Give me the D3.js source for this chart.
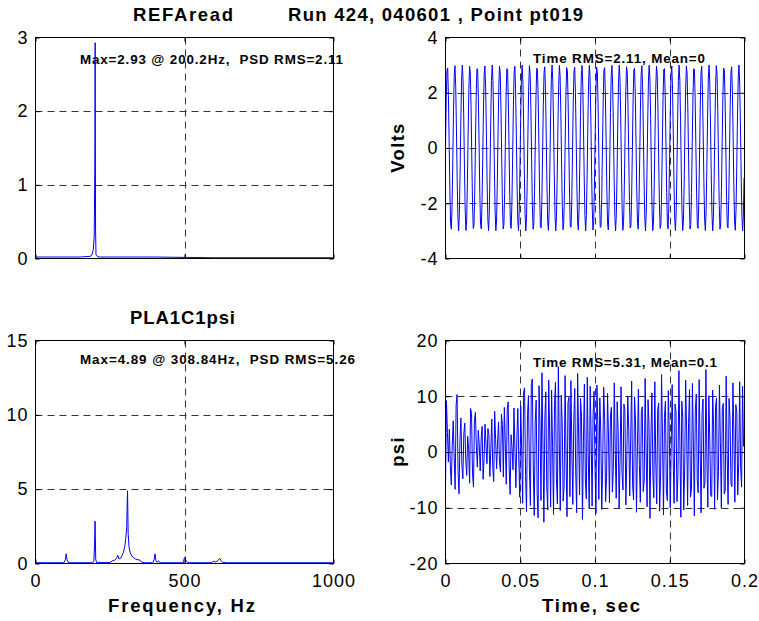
<!DOCTYPE html>
<html><head><meta charset="utf-8">
<script src="https://cdn.jsdelivr.net/npm/d3@7"></script>
<style>
body{margin:0;background:#fff}
svg{display:block}
text{font-family:"Liberation Sans",Arial,Helvetica,sans-serif;fill:#000}
.note{white-space:pre}
</style>
</head><body>
<svg id="chart" width="759" height="621"></svg>
<script>
// ---------- texts ----------
const refTitle = "REFAread";
const runTitle = "Run 424, 040601 , Point pt019";
const psiTitle = "PLA1C1psi";
const refPsdNote = "Max=2.93 @ 200.2Hz,  PSD RMS=2.11";
const psiPsdNote = "Max=4.89 @ 308.84Hz,  PSD RMS=5.26";
const refTimeNote = "Time RMS=2.11, Mean=0";
const psiTimeNote = "Time RMS=5.31, Mean=0.1";
const freqLabel = "Frequency, Hz";
const timeLabel = "Time, sec";
const voltsLabel = "Volts";
const psiLabel = "psi";

// ---------- ticks ----------
const freqTicks = [0, 500, 1000];
const timeTicks = [0, 0.05, 0.1, 0.15, 0.2];
const refPsdTicks = [0, 1, 2, 3];
const psiPsdTicks = [0, 5, 10, 15];
const voltsTicks = [-4, -2, 0, 2, 4];
const psiTicks = [-20, -10, 0, 10, 20];

// ---------- PSD data (Hz, value) ----------
const refPsdFreq = [0, 150, 185, 190, 194, 197, 199, 200.2, 201.5, 203, 210, 400, 600, 1000];
const refPsdVal  = [0.02, 0.02, 0.03, 0.06, 0.12, 0.3, 1.2, 2.93, 0.4, 0.05, 0.02, 0.02, 0.01, 0.01];

const psiPsdFreq = [0, 95, 100, 103, 106, 111, 192, 196, 198, 200, 202, 205, 250, 258, 265, 272, 276, 280,
  286, 291, 295, 300, 303, 306, 308.8, 311, 314, 318, 325, 335, 350, 358, 365, 394, 398, 401, 404, 408, 411,
  413, 416, 420, 496, 500, 505, 510, 516, 590, 596, 600, 605, 610, 614, 618, 622, 628, 640, 1000];
const psiPsdVal = [0.05, 0.05, 0.25, 0.65, 0.25, 0.05, 0.05, 0.2, 1.2, 2.85, 0.3, 0.06, 0.06, 0.18, 0.22, 0.35, 0.55, 0.32,
  0.35, 0.55, 0.75, 1.2, 1.7, 2.4, 4.89, 2.0, 1.1, 0.7, 0.45, 0.3, 0.22, 0.08, 0.05, 0.05, 0.25, 0.65, 0.2, 0.08, 0.15,
  0.18, 0.08, 0.05, 0.05, 0.4, 0.22, 0.08, 0.05, 0.05, 0.12, 0.15, 0.1, 0.15, 0.25, 0.35, 0.2, 0.08, 0.05, 0.05];

// ---------- time data ----------
const refRate = 2048; // samples per second
const refVolts = [
0,1.73,2.82,2.89,1.90,0.22,-1.54,-2.74,-2.94,-2.07,-0.44,
1.35,2.65,2.98,2.22,0.66,-1.15,-2.53,-3.00,-2.37,-0.87,
0.94,2.41,3.00,2.49,1.08,-0.73,-2.27,-2.99,-2.61,-1.28,
0.51,2.12,2.96,2.71,1.48,-0.29,-1.96,-2.91,-2.80,-1.67,
0.07,1.79,2.85,2.87,1.85,0.15,-1.61,-2.77,-2.93,-2.01,-0.37,
1.41,2.68,2.97,2.17,0.59,-1.22,-2.57,-2.99,-2.32,-0.80,
1.01,2.45,3.00,2.45,1.01,-0.80,-2.32,-2.99,-2.57,-1.22,
0.59,2.17,2.97,2.68,1.41,-0.37,-2.01,-2.93,-2.77,-1.61,
0.15,1.85,2.87,2.85,1.79,0.07,-1.67,-2.80,-2.91,-1.96,-0.29,
1.48,2.71,2.96,2.12,0.51,-1.28,-2.61,-2.99,-2.27,-0.73,
1.08,2.49,3.00,2.41,0.94,-0.87,-2.37,-3.00,-2.53,-1.15,
0.66,2.22,2.98,2.65,1.35,-0.44,-2.07,-2.94,-2.74,-1.54,
0.22,1.90,2.89,2.82,1.73,0.00,-1.73,-2.82,-2.89,-1.90,-0.22,
1.54,2.74,2.94,2.07,0.44,-1.35,-2.65,-2.98,-2.22,-0.66,
1.15,2.53,3.00,2.37,0.87,-0.94,-2.41,-3.00,-2.49,-1.08,
0.73,2.27,2.99,2.61,1.28,-0.51,-2.12,-2.96,-2.71,-1.48,
0.29,1.96,2.91,2.80,1.67,-0.07,-1.79,-2.85,-2.87,-1.85,-0.15,
1.61,2.77,2.93,2.01,0.37,-1.41,-2.68,-2.97,-2.17,-0.59,
1.22,2.57,2.99,2.32,0.80,-1.01,-2.45,-3.00,-2.45,-1.01,
0.80,2.32,2.99,2.57,1.22,-0.59,-2.17,-2.97,-2.68,-1.41,
0.37,2.01,2.93,2.77,1.61,-0.15,-1.85,-2.87,-2.85,-1.79,-0.07,
1.67,2.80,2.91,1.96,0.29,-1.48,-2.71,-2.96,-2.12,-0.51,
1.28,2.61,2.99,2.27,0.73,-1.08,-2.49,-3.00,-2.41,-0.94,
0.87,2.37,3.00,2.53,1.15,-0.66,-2.22,-2.98,-2.65,-1.35,
0.44,2.07,2.94,2.74,1.54,-0.22,-1.90,-2.89,-2.82,-1.73,
0,1.73,2.82,2.89,1.90,0.22,-1.54,-2.74,-2.94,-2.07,-0.44,
1.35,2.65,2.98,2.22,0.66,-1.15,-2.53,-3.00,-2.37,-0.87,
0.94,2.41,3.00,2.49,1.08,-0.73,-2.27,-2.99,-2.61,-1.28,
0.51,2.12,2.96,2.71,1.48,-0.29,-1.96,-2.91,-2.80,-1.67,
0.07,1.79,2.85,2.87,1.85,0.15,-1.61,-2.77,-2.93,-2.01,-0.37,
1.41,2.68,2.97,2.17,0.59,-1.22,-2.57,-2.99,-2.32,-0.80,
1.01,2.45,3.00,2.45,1.01,-0.80,-2.32,-2.99,-2.57,-1.22,
0.59,2.17,2.97,2.68,1.41,-0.37,-2.01,-2.93,-2.77,-1.61,
0.15,1.85,2.87,2.85,1.79,0.07,-1.67,-2.80,-2.91,-1.96,-0.29,
1.48,2.71,2.96,2.12,0.51,-1.28,-2.61,-2.99,-2.27,-0.73,
1.08,2.49,3.00,2.41,0.94,-0.87,-2.37,-3.00,-2.53,-1.15,
0.66,2.22,2.98,2.65,1.35,-0.44,-2.07,-2.94,-2.74,-1.54,
0.22,1.90,2.89,2.82,1.73,0.00,-1.73,-2.82,-2.89,-1.90,-0.22,
1.54,2.74,2.94,2.07,0.44,-1.35,-2.65,-2.98,-2.22,-0.66,
1.15,2.53,3.00,2.37,0.87,-0.94,-2.41,-3.00,-2.49,-1.08
];

const psiRate = 1550; // samples per second
const psiValues = [
-6.4,9.2,3.5,-1.8,4.1, -2.5,-5.9,1.2,5.6,-1.0, -6.7,8.4,10.3,-3.3,-7.5, 2.0,6.1,-2.4,-4.8,3.3,
5.2,-1.5,-4.2,2.8,0.4, -5.6,7.8,6.9,-3.9,-6.3, 5.5,7.1,0.9,-2.7,3.9, 1.2,-3.4,2.5,4.6,-4.9,
-1.1,5.0,1.3,-2.1,4.2, 3.1,-4.4,0.6,5.9,-2.9, -5.3,7.3,2.2,-3.0,1.8, 5.4,-1.9,-3.6,6.8,4.9,
-4.5,8.0,1.4,-5.8,7.7, 9.0,-2.8,-7.6,3.1,0.8, -3.2,7.9,0.5,-6.4,2.6, 7.8,-1.7,-8.1,8.3,0.3,
-9.2,10.8,11.5,-4.2,-10.7, 6.5,10.1,-3.0,-9.6,12.3, 13.1,-2.5,-11.4,5.2,9.3, -7.4,-11.8,11.9,4.4,-8.7,
14.2,2.1,-12.6,6.0,10.8, -6.2,-10.4,12.9,3.6,-9.9, 11.1,1.0,-11.2,8.3,12.5, -4.8,-9.3,15.3,1.6,-10.5,
10.2,5.5,-8.8,-6.1,13.7, -1.2,-11.6,8.9,9.8,-8.0, 12.8,0.7,-9.4,5.3,11.4, -3.4,-10.9,14.1,3.2,-7.7,
9.6,6.4,-12.1,1.9,12.2, -5.0,-8.4,13.4,-0.6,-10.2, 11.8,2.8,-9.7,6.7,10.9, -2.3,-11.0,12.0,4.7,-8.5,
9.7,3.4,-10.3,-2.0,11.6, 5.8,-8.9,-4.6,10.5,2.7, -9.1,6.6,8.0,-7.2,-3.1, 12.4,0.2,-8.3,9.0,4.0,
-10.1,-1.5,11.7,-3.7,-6.8, 8.6,7.5,-9.5,-0.9,10.0, 3.9,-7.9,2.4,12.7,-6.0, -8.6,9.9,5.7,-10.8,1.1,
11.3,-2.2,-9.0,7.0,8.1, -7.1,-5.2,13.2,0.0,-9.8, 9.4,4.8,-11.9,3.0,10.6, -4.0,-8.2,12.6,-1.4,-9.3,
7.6,8.8,-10.6,-4.3,13.9, 2.4,-11.3,6.2,9.1,-7.0, -8.7,11.0,3.7,-10.0,0.9, 12.1,-0.8,-9.2,8.6,7.2,
-8.9,-4.1,14.6,1.5,-11.7, 9.1,6.3,-10.4,-2.6,12.9, 3.8,-9.6,5.1,11.2,-8.1, -6.6,12.3,2.0,-11.5,7.4,
10.4,-4.9,-7.3,13.0,0.6, -10.9,6.9,9.5,-6.5,-5.4, 14.8,-1.3,-9.9,10.1,2.3, -7.8,-8.0,11.1,4.5,-10.3,
8.2,9.7,-8.6,-3.5,12.0, 1.7,-10.1,7.9,8.7,-7.5, -6.9,13.6,-0.4,-9.4,9.6, 6.0,-5.7,-6.2,12.4,3.3,
-9.0,8.5,7.1,-7.7,-2.1, 12.6,-2.7,-6.3,11.8,1.0
];

// ---------- drawing ----------
const svg = d3.select("#chart");
const FONT = '"Liberation Sans",Arial,Helvetica,sans-serif';
const GRID = "#333";
const BLUE = "#0000ff";

const cols = { left: [35.5, 333.5], right: [445.5, 744.5] };
const rows = { top: [37.5, 258.5], bottom: [340.5, 563.5] };
let clipId = 0;

function panel(o) {
  const [x0, x1] = o.cols, [y0, y1] = o.rows;
  const x = d3.scaleLinear().domain(o.xDomain).range([x0, x1]);
  const y = d3.scaleLinear().domain(o.yDomain).range([y1, y0]);
  const g = svg.append("g");

  // annotation text (drawn under grid/line/box like the reference)
  g.append("text").attr("class", "note").attr("x", o.note.x).attr("y", o.note.y)
    .attr("xml:space", "preserve")
    .attr("font-size", 13.4).attr("font-weight", "bold")
    .attr("textLength", o.note.w).attr("lengthAdjust", "spacing")
    .text(o.note.text);

  // grid
  const xt = o.xTicks.filter(d => d !== o.xDomain[0] && d !== o.xDomain[1]);
  const yt = o.yTicks.filter(d => d !== o.yDomain[0] && d !== o.yDomain[1]);
  g.selectAll(".gx").data(xt).join("line")
    .attr("x1", d => Math.round(x(d)) + 0.5).attr("x2", d => Math.round(x(d)) + 0.5)
    .attr("y1", y0).attr("y2", y1)
    .attr("stroke", GRID).attr("stroke-dasharray", "7,5");
  g.selectAll(".gy").data(yt).join("line")
    .attr("y1", d => Math.round(y(d)) + 0.5).attr("y2", d => Math.round(y(d)) + 0.5)
    .attr("x1", x0).attr("x2", x1)
    .attr("stroke", GRID).attr("stroke-dasharray", "7,5");

  // data line
  const id = "clip" + (clipId++);
  svg.append("clipPath").attr("id", id).append("rect")
    .attr("x", x0).attr("y", y0).attr("width", x1 - x0).attr("height", y1 - y0);
  const line = d3.line().x(d => x(d[0])).y(d => y(d[1]));
  g.append("path").datum(o.points).attr("clip-path", `url(#${id})`)
    .attr("d", line).attr("fill", "none").attr("stroke", BLUE).attr("stroke-width", 1);

  // axes
  const fmt = d => String(d);
  const ax = g.append("g").attr("transform", `translate(0,${y1})`)
    .call(d3.axisBottom(x).tickValues(o.xTicks).tickSize(-4).tickPadding(11)
      .tickFormat(o.xLabels ? fmt : ""));
  const ay = g.append("g").attr("transform", `translate(${x0},0)`)
    .call(d3.axisLeft(y).tickValues(o.yTicks).tickSize(-4).tickPadding(7).tickFormat(fmt));
  const at = g.append("g").attr("transform", `translate(0,${y0})`)
    .call(d3.axisTop(x).tickValues(o.xTicks).tickSize(-4).tickFormat(""));
  const ar = g.append("g").attr("transform", `translate(${x1},0)`)
    .call(d3.axisRight(y).tickValues(o.yTicks).tickSize(-4).tickFormat(""));
  [ax, ay, at, ar].forEach(a => {
    a.select(".domain").remove();
    a.attr("font-family", FONT).attr("font-size", 18);
    a.selectAll("line").attr("stroke", "#000");
    a.selectAll("text").attr("fill", "#000").attr("letter-spacing", "1px");
  });

  // box
  g.append("rect").attr("x", x0).attr("y", y0).attr("width", x1 - x0).attr("height", y1 - y0)
    .attr("fill", "none").attr("stroke", "#000").attr("stroke-width", 1);
}

const zip2 = (a, b) => a.map((v, i) => [v, b[i]]);
const series = (vals, rate) => vals.map((v, i) => [i / rate, v]);

panel({ cols: cols.left, rows: rows.top, xDomain: [0, 1000], yDomain: [0, 3],
  xTicks: freqTicks, yTicks: refPsdTicks, xLabels: false,
  points: zip2(refPsdFreq, refPsdVal),
  note: { text: refPsdNote, x: 80, y: 64, w: 263 } });

panel({ cols: cols.right, rows: rows.top, xDomain: [0, 0.2], yDomain: [-4, 4],
  xTicks: timeTicks, yTicks: voltsTicks, xLabels: false,
  points: series(refVolts, refRate),
  note: { text: refTimeNote, x: 533, y: 63, w: 172 } });

panel({ cols: cols.left, rows: rows.bottom, xDomain: [0, 1000], yDomain: [0, 15],
  xTicks: freqTicks, yTicks: psiPsdTicks, xLabels: true,
  points: zip2(psiPsdFreq, psiPsdVal),
  note: { text: psiPsdNote, x: 80, y: 364, w: 275 } });

panel({ cols: cols.right, rows: rows.bottom, xDomain: [0, 0.2], yDomain: [-20, 20],
  xTicks: timeTicks, yTicks: psiTicks, xLabels: true,
  points: series(psiValues, psiRate),
  note: { text: psiTimeNote, x: 533, y: 367, w: 184 } });

// titles and labels
function bold(txt, x, y, w, size, anchor) {
  const t = svg.append("text").attr("x", x).attr("y", y)
    .attr("font-size", size).attr("font-weight", "bold")
    .attr("text-anchor", anchor || "start").text(txt);
  if (w) t.attr("textLength", w).attr("lengthAdjust", "spacing");
  return t;
}
bold(refTitle, 133, 20.7, 100, 18.5);
bold(runTitle, 288, 20.7, 295, 18.5);
bold(psiTitle, 130, 324, 105, 18.5);
bold(freqLabel, 108, 611.7, 147, 18.5);
bold(timeLabel, 542, 611.7, 98, 18.5);
svg.append("text").attr("transform", "translate(404,147.5) rotate(-90)")
  .attr("text-anchor", "middle").attr("font-size", 18.5).attr("font-weight", "bold")
  .attr("letter-spacing", "1.3px").text(voltsLabel);
svg.append("text").attr("transform", "translate(404,451.5) rotate(-90)")
  .attr("text-anchor", "middle").attr("font-size", 18.5).attr("font-weight", "bold")
  .attr("letter-spacing", "1.3px").text(psiLabel);
</script>
</body></html>
